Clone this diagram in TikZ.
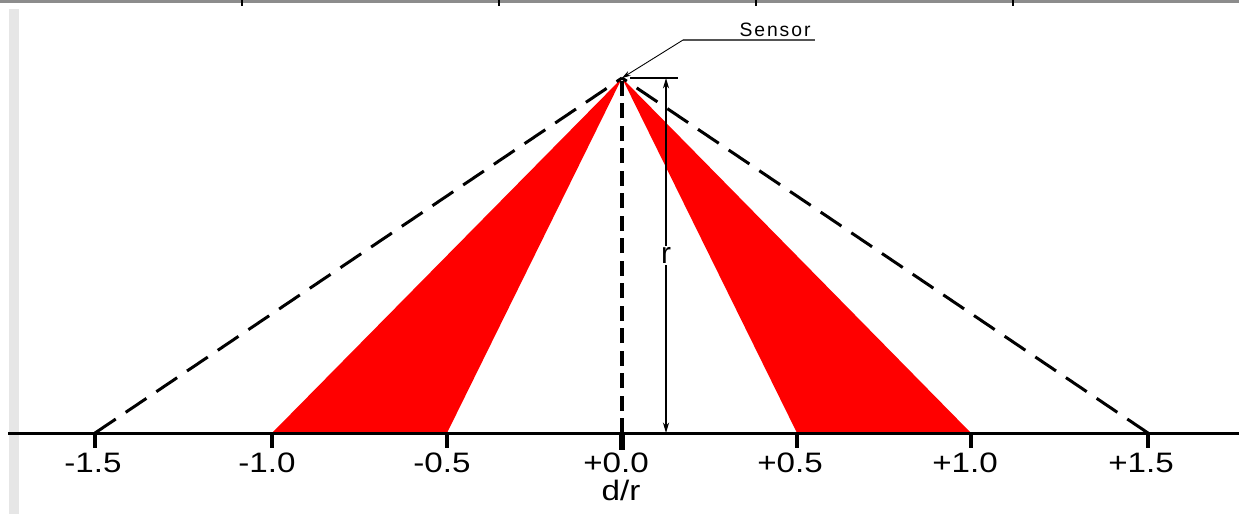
\documentclass[tikz,border=0pt]{standalone}
\usepackage{fontspec}
\setmainfont{Liberation Sans}
\usetikzlibrary{arrows.meta}
\definecolor{wedgered}{RGB}{255,0,0}
\definecolor{framegray}{RGB}{230,230,230}
\definecolor{rulegray}{RGB}{140,140,140}

\begin{document}
\begin{tikzpicture}[
    x=0.02cm,
    y=-0.02cm,
    >=Stealth,
    guide/.style={line width=1.7pt, dash pattern=on 0.5cm off 0.24cm},
    centreline/.style={line width=2.4pt, dash pattern=on 0.3cm off 0.15cm},
    ticklabel/.style={anchor=base, inner sep=0pt, font=\fontsize{16}{18}\selectfont\addfontfeature{FakeStretch=1.18}}
]

\useasboundingbox (0,0) rectangle (1239,514);

% Page frame
\fill[framegray] (9,9) rectangle (19,514);
\draw[rulegray, line width=1.2pt] (0,1.5) -- (1239,1.5);
\draw[line width=0.6pt] (242,0) -- (242,6);
\draw[line width=0.6pt] (499,0) -- (499,6);
\draw[line width=0.6pt] (756,0) -- (756,6);
\draw[line width=0.6pt] (1013,0) -- (1013,6);

% Sensor and ground points
\coordinate (apex) at (622,78);
\coordinate (axl) at (8,433);
\coordinate (axr) at (1239,433);
\coordinate (m15) at (95,433);
\coordinate (m10) at (272,433);
\coordinate (m05) at (447,433);
\coordinate (z0) at (622,433);
\coordinate (p05) at (797,433);
\coordinate (p10) at (971,433);
\coordinate (p15) at (1148,433);

% Red wedges
\fill[wedgered] (apex) -- (m10) -- (m05) -- cycle;
\fill[wedgered] (apex) -- (p05) -- (p10) -- cycle;

% Dashed limits
\draw[guide] (m15) -- (apex);
\draw[guide] (p15) -- (apex);
\draw[centreline] (z0) -- (apex);

% Axis with ticks
\draw[line width=1.7pt] (axl) -- (axr);
\draw[line width=2pt] (m15) -- ++(0,15);
\draw[line width=2pt] (m10) -- ++(0,15);
\draw[line width=2pt] (m05) -- ++(0,15);
\draw[line width=3pt] (z0) -- ++(0,17);
\draw[line width=2pt] (p05) -- ++(0,15);
\draw[line width=2pt] (p10) -- ++(0,15);
\draw[line width=2pt] (p15) -- ++(0,15);

% Tick labels
\node[ticklabel] (lm15) at (93,472) {-1.5};
\node[ticklabel] (lm10) at (267,472) {-1.0};
\node[ticklabel] (lm05) at (442,472) {-0.5};
\node[ticklabel] (lz0) at (616,472) {+0.0};
\node[ticklabel] (lp05) at (790,472) {+0.5};
\node[ticklabel] (lp10) at (965,472) {+1.0};
\node[ticklabel] (lp15) at (1141,472) {+1.5};
\node[ticklabel] (axis) at (621,500) {d/r};

% Sensor callout
\node[
    anchor=base,
    inner sep=0pt,
    font=\fontsize{11}{13}\selectfont\addfontfeature{LetterSpace=10}
] (sensor) at (775,36) {Sensor};
\coordinate (knee) at (683,40);
\coordinate (tail) at (815,40);
\draw[line width=0.9pt, rulegray!60!black] (knee) -- (tail);
\draw[
    line width=0.5pt,
    {Stealth[length=5pt,width=3pt]}-
]
(apex) -- (knee);

% Height dimension
\coordinate (dimtop) at (666,78);
\coordinate (dimbot) at (666,433);
\coordinate (extl) at (630,78);
\coordinate (extr) at (678,78);
\draw[line width=0.6pt] (extl) -- (extr);
\draw[
    line width=0.7pt,
    {Stealth[length=6pt,width=3.5pt]}-{Stealth[length=6pt,width=3.5pt]}
]
(dimtop) --
node[
    fill=white,
    inner sep=1pt,
    font=\fontsize{17}{19}\selectfont
]
(rlabel)
{r}
(dimbot);
\end{tikzpicture}
\end{document}
